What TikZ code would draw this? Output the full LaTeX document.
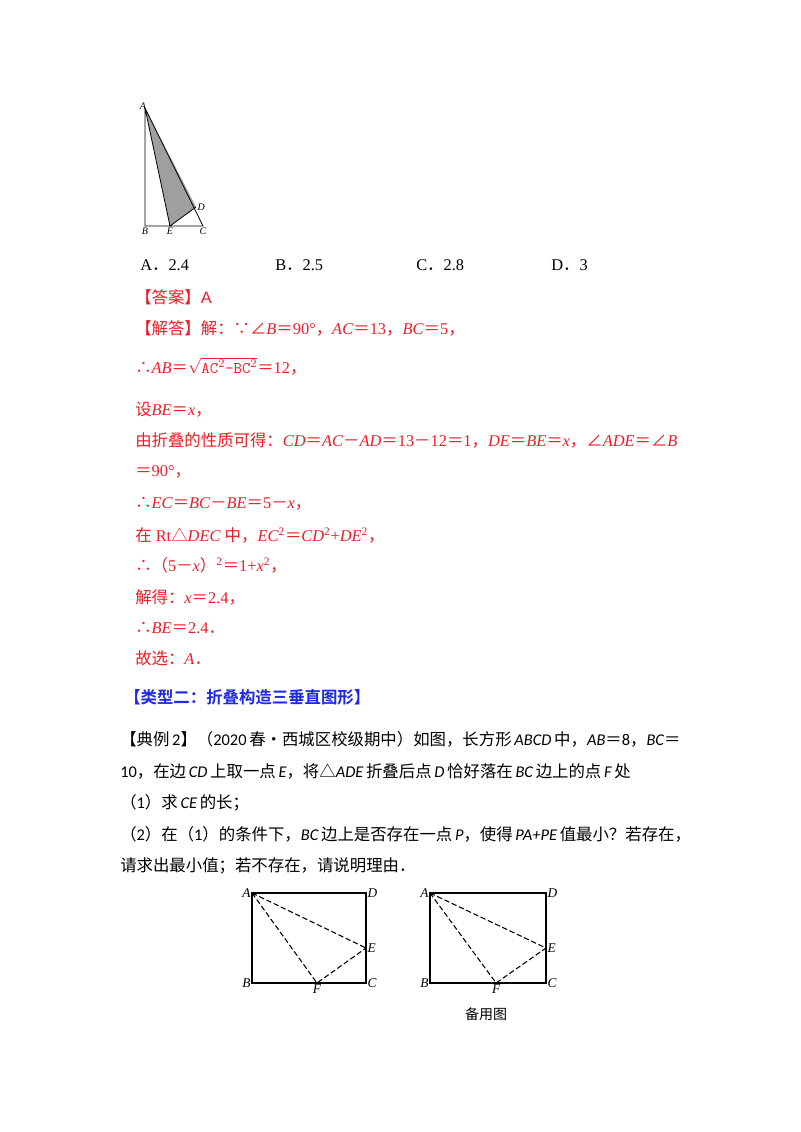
\documentclass[tikz,border=0pt]{standalone}
\usepackage{fontspec}
\setmainfont{Liberation Serif}
\newfontfamily\cjk{Noto Sans CJK SC}
\newfontfamily\cjkb{Noto Sans CJK SC Bold}
\newfontfamily\carl{Carlito}
\newcommand\Q{{\cjk ＝}}
\newcommand\C{{\cjk ，}}
\newcommand\M{{\cjk －}}
\newcommand\Dt{{\cjk ．}}
\newcommand\Th{{\cjk ∴}}
\newcommand\Bc{{\cjk ∵}}
\newcommand\Ang{{\cjk ∠}}
\newcommand\Tri{{\cjk △}}
\newcommand\ci[1]{{\carl\itshape #1}}
\definecolor{ansred}{RGB}{235,30,40}
\definecolor{hblue}{RGB}{30,40,230}
\begin{document}
\begin{tikzpicture}[x=0.75pt,y=-0.75pt,
  txt/.style={anchor=west,inner sep=0pt,font=\fontsize{12.3}{14}\selectfont},
  red/.style={txt,text=ansred},
  lab/.style={inner sep=1pt,font=\fontsize{10}{11}\selectfont\itshape},
  slab/.style={inner sep=1pt,font=\fontsize{7.5}{8}\selectfont\itshape},
  fig/.style={line width=0.9pt},
  dsh/.style={line width=0.8pt,dashed,dash pattern=on 4pt off 2pt}]
\useasboundingbox[fill=white] (0,0) rectangle (800,1132);
% triangle
\coordinate (A0) at (145,108); \coordinate (B0) at (145,226);
\coordinate (C0) at (203,226); \coordinate (E0) at (170,226);
\coordinate (D0) at (196,207);
\fill[gray!75] (A0)--(E0)--(D0)--cycle;
\draw[line width=0.6pt] (A0)--(B0)--(C0)--cycle (A0)--(E0)--(D0);
\node[slab,above left=-2pt] at (A0) {A};
\node[slab,below] at (B0) {B};
\node[slab,below] at (C0) {C};
\node[slab,below] at (E0) {E};
\node[slab,right] at (D0) {D};
% options
\node[txt] at (140,265) {A\Dt 2.4};
\node[txt] at (275,265) {B\Dt 2.5};
\node[txt] at (416,265) {C\Dt 2.8};
\node[txt] at (551,265) {D\Dt 3};
% solution
\node[red] at (135,297) {\cjk 【答案】\fontspec{Liberation Sans}A};
\node[red] at (135,328) {{\cjk 【解答】解：}\Bc\Ang\textit{B}\Q 90°\C\textit{AC}\Q 13\C\textit{BC}\Q 5\C};
\node[red] at (135,366) {\Th\textit{AB}\Q$\sqrt{\mathrm{\texttt{AC}}^{2}\texttt{-}\mathrm{\texttt{BC}}^{2}}$\Q 12\C};
\node[red] at (135,410) {{\cjk 设}\textit{BE}\Q\textit{x}\C};
\node[red] at (135,440) {{\cjk 由折叠的性质可得：}\textit{CD}\Q\textit{AC}\M\textit{AD}\Q 13\M 12\Q 1\C\textit{DE}\Q\textit{BE}\Q\textit{x}\C\Ang\textit{ADE}\Q\Ang\textit{B}};
\node[red] at (135,472) {\Q 90°\C};
\node[red] at (135,504) {\Th\textit{EC}\Q\textit{BC}\M\textit{BE}\Q 5\M\textit{x}\C};
\node[red] at (135,535) {{\cjk 在}~Rt\Tri\textit{DEC}~{\cjk 中}\C\textit{EC}\textsuperscript{2}\Q\textit{CD}\textsuperscript{2}+\textit{DE}\textsuperscript{2}\C};
\node[red] at (135,565) {\Th{\cjk （}5\M\textit{x}{\cjk ）}\textsuperscript{2}\Q 1+\textit{x}\textsuperscript{2}\C};
\node[red] at (135,597) {{\cjk 解得：}\textit{x}\Q 2.4\C};
\node[red] at (135,628) {\Th\textit{BE}\Q 2.4\Dt};
\node[red] at (135,658) {{\cjk 故选：}\textit{A}\Dt};
% heading
\node[txt,text=hblue] at (124,697) {\cjkb 【类型二：折叠构造三垂直图形】};
% problem
\node[txt] at (120,739) {\cjk 【典例\,{\carl 2}】（{\carl 2020}\,春•西城区校级期中）如图，长方形\,\ci{ABCD}\,中，\ci{AB}＝{\carl 8}，\ci{BC}＝};
\node[txt] at (120,771) {\cjk {\carl 10}，在边\,\ci{CD}\,上取一点\,\ci{E}，将△\ci{ADE}\,折叠后点\,\ci{D}\,恰好落在\,\ci{BC}\,边上的点\,\ci{F}\,处};
\node[txt] at (120,803) {\cjk （{\carl 1}）求\,\ci{CE}\,的长；};
\node[txt] at (120,834) {\cjk （{\carl 2}）在（{\carl 1}）的条件下，\ci{BC}\,边上是否存在一点\,\ci{P}，使得\,\ci{PA+PE}\,值最小？若存在，};
\node[txt] at (120,866) {\cjk 请求出最小值；若不存在，请说明理由．};
% rectangles
\foreach \dx/\w/\n in {0/114/1,178/116/2}{
  \begin{scope}[xshift=\dx*0.75pt]
  \coordinate (A\n) at (252,893); \coordinate (D\n) at (252+\w,893);
  \coordinate (C\n) at (252+\w,983); \coordinate (B\n) at (252,983);
  \coordinate (E\n) at (252+\w,948); \coordinate (F\n) at (252+0.57*\w,983);
  \draw[fig] (A\n)--(D\n)--(C\n)--(B\n)--cycle;
  \draw[dsh] (A\n)--(E\n) (A\n)--(F\n)--(E\n);
  \node[lab,left] at (A\n) {A};
  \node[lab,right] at (D\n) {D};
  \node[lab,right] at (C\n) {C};
  \node[lab,left] at (B\n) {B};
  \node[lab,right] at (E\n) {E};
  \node[lab,below] at (F\n) {F};
  \end{scope}}
\node[inner sep=0pt,font=\cjk\fontsize{10.5}{12}\selectfont] (cap) at (486,1014) {备用图};
\end{tikzpicture}
\end{document}
